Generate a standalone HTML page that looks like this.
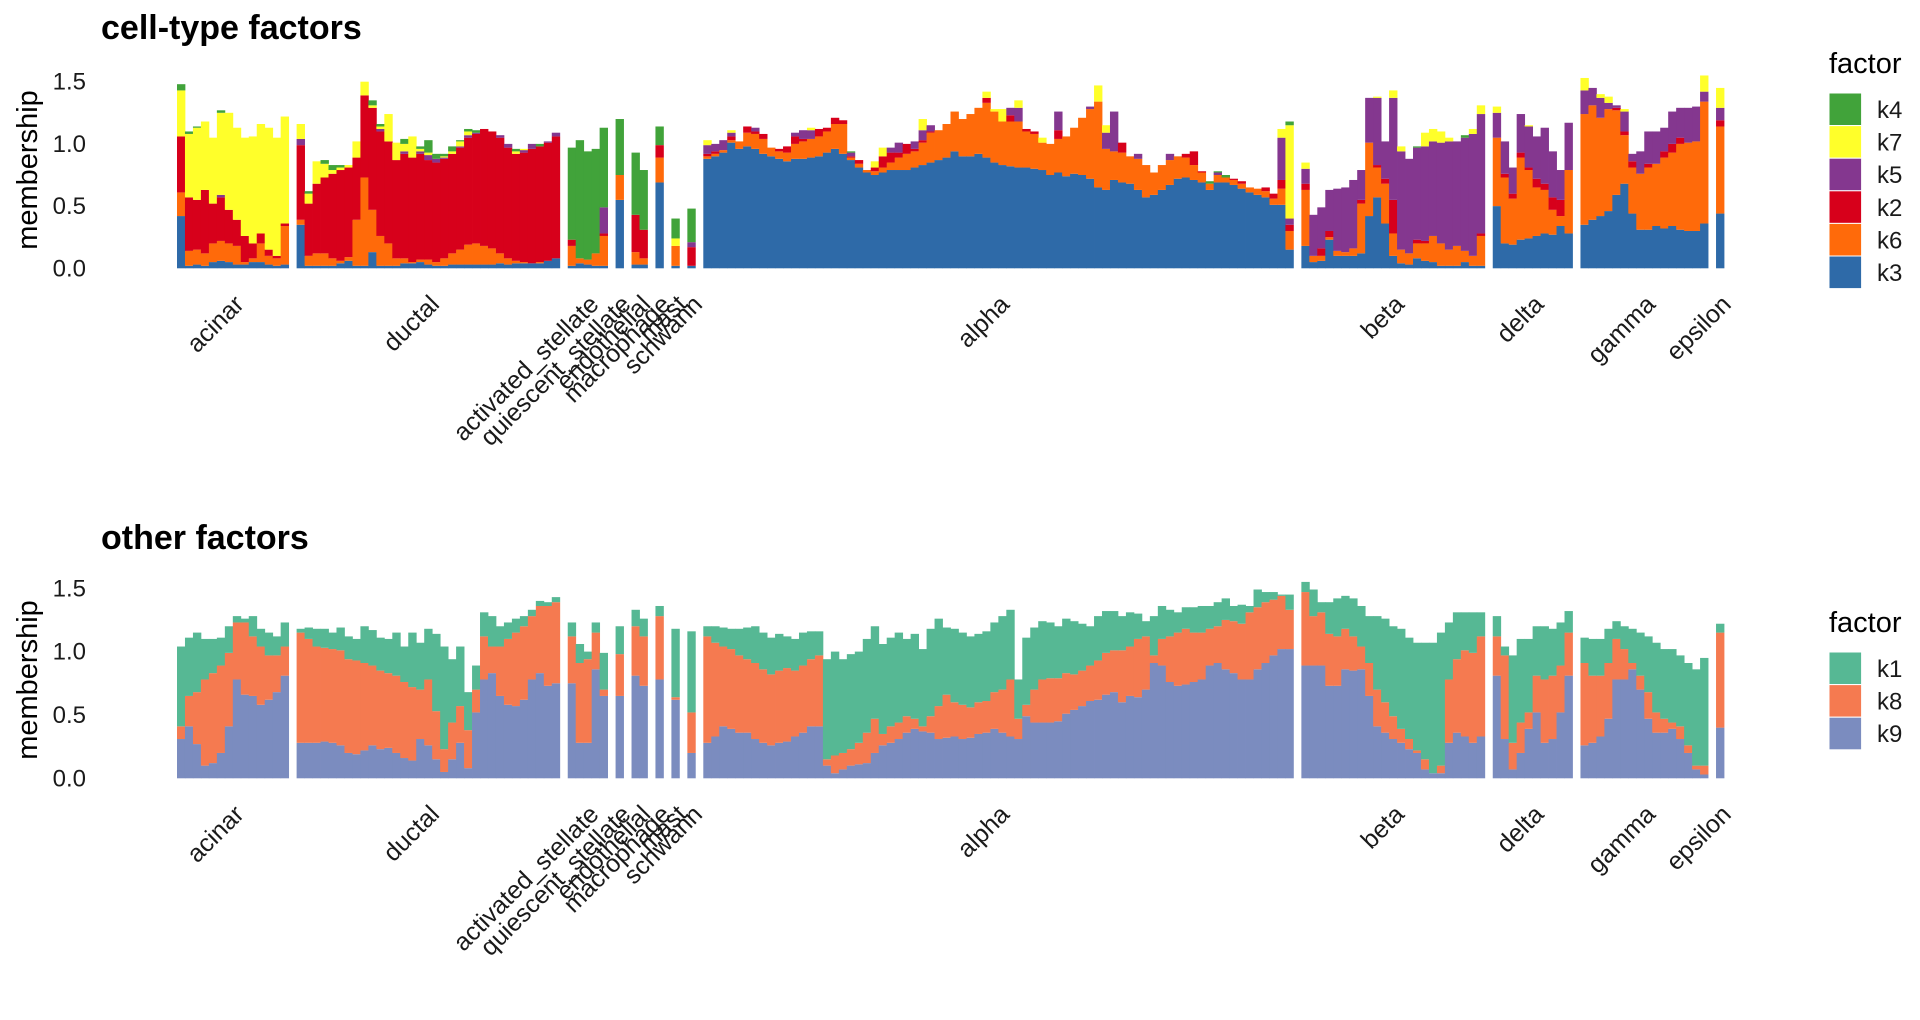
<!DOCTYPE html>
<html><head><meta charset="utf-8">
<style>
html,body{margin:0;padding:0;background:#fff;}
svg{display:block;font-family:"Liberation Sans",Arial,sans-serif;}
</style></head>
<body>
<svg id="chart" width="1920" height="1020" viewBox="0 0 1920 1020" xmlns="http://www.w3.org/2000/svg">
  <rect width="1920" height="1020" fill="#fff"/>
  <g id="p1">
    <text x="101" y="39" font-size="34" font-weight="bold" fill="#000">cell-type factors</text>
    <text transform="translate(37,170) rotate(-90)" text-anchor="middle" font-size="29" fill="#000">membership</text>
  </g>
  <g id="p2">
    <text x="101" y="549" font-size="34" font-weight="bold" fill="#000">other factors</text>
    <text transform="translate(37,680) rotate(-90)" text-anchor="middle" font-size="29" fill="#000">membership</text>
  </g>
</svg>
<script>
// ---- data ----
const groups = ["acinar","ductal","activated_stellate","quiescent_stellate","endothelial","macrophage","mast","schwann","alpha","beta","delta","gamma","epsilon"];
const groupCounts = [14,33,5,1,2,1,1,1,74,23,10,16,1];
const yTicks = [0, 0.5, 1, 1.5];
const yTickLabels = ["0.0","0.5","1.0","1.5"];
const factors1 = ["k3","k6","k2","k5","k7","k4"];
const factors2 = ["k9","k8","k1"];

const k3 = [.42,.02,.03,.02,.05,.06,.05,.03,.03,.05,.05,.03,.02,.03,
.35,.02,.02,.02,.02,.04,.06,.02,.02,.13,.02,.02,.02,.04,.04,.05,.03,.02,.02,.03,.03,.03,.03,.03,.03,.04,.03,.04,.04,.04,.04,.06,.08,
.02,.04,.03,.02,.02, .55, .03,.03, .69, .02, .02,
.88,.90,.93,1.01,.96,.98,.96,.92,.90,.88,.86,.88,.88,.89,.90,.93,.96,.92,.87,.81,.77,.75,.77,.79,.79,.79,.81,.83,.85,.87,.89,.94,.90,.90,.92,.89,.85,.83,.82,.81,.81,.80,.79,.75,.77,.74,.76,.75,.72,.65,.63,.71,.69,.68,.63,.57,.59,.63,.67,.72,.73,.71,.69,.63,.69,.69,.67,.64,.61,.59,.57,.51,.51,.15,
.18,.05,.06,.23,.10,.10,.10,.12,.42,.57,.36,.10,.04,.03,.08,.06,.05,.02,.02,.02,.05,.02,.02,
.5,.2,.19,.23,.24,.26,.28,.27,.34,.28,
.35,.39,.42,.46,.59,.68,.44,.31,.31,.34,.32,.34,.31,.30,.30,.36,
.44];
const k6 = [.19,.12,.12,.10,.15,.16,.15,.15,.02,.03,.15,.07,.06,.31,
.04,.08,.10,.10,.06,.02,.03,.37,.71,.34,.24,.18,.06,.04,.01,.02,.04,.03,.06,.09,.12,.16,.17,.15,.13,.08,.05,.02,.01,0,.01,0,0,
.16,.04,.04,.10,.24, .2, .1,.05, .2, .16, 0,
.02,.02,.02,.02,.06,.11,.12,.12,.07,.06,.07,.12,.14,.15,.16,.17,.20,.24,.02,.03,.02,.03,.04,.06,.10,.13,.13,.18,.24,.24,.27,.32,.30,.34,.37,.44,.41,.35,.36,.37,.29,.28,.22,.25,.27,.32,.37,.46,.56,.69,.33,.23,.24,.22,.25,.26,.18,.20,.20,.18,.16,.12,.08,.05,.06,.04,.04,.04,.04,.05,.05,.05,.13,.15,
.45,.05,.04,.02,.04,.03,.06,.40,.59,.24,.32,.18,.11,.09,.12,.14,.21,.18,.13,.16,.09,.08,.24,
.55,.53,.37,.66,.55,.39,.35,.2,.08,.51,
.89,.92,.79,.82,.68,.39,.37,.45,.50,.50,.57,.59,.69,.71,.72,.98,
.70];
const k2 = [.45,.43,.40,.51,.32,.35,.27,.21,.21,.12,.08,.05,.02,.02,
.6,.42,.56,.61,.68,.73,.72,.50,.66,.82,.84,.82,.79,.84,.84,.85,.80,.80,.80,.80,.82,.86,.88,.94,.94,.93,.89,.86,.88,.92,.93,.95,.98,
.05,0,0,0,.02, 0, .3,.23, .1, 0, .15,
.02,.02,0,.03,0,.05,.02,.04,0,.02,.05,.06,.02,0,.06,.03,.05,.03,.01,.03,0,.03,.09,.08,.04,.08,.02,.02,.01,0,0,0,0,0,0,.04,0,0,.05,0,.02,.02,0,0,.07,0,0,0,0,0,0,0,.08,0,0,0,0,0,0,0,.03,.11,.01,0,0,0,.01,.02,0,0,.03,.04,.07,.05,
.05,0,.06,.05,0,0,0,.03,0,.02,.04,.27,0,0,.03,.02,0,0,0,0,0,0,.02,
0,.03,.04,.04,.02,.07,.05,.1,.13,0,
0,0,0,0,.02,.03,.05,0,.03,0,.05,.07,.05,0,0,0,
.05];
const k5 = [0,0,0,0,0,.02,0,0,0,0,0,0,0,0,
.05,0,0,0,0,0,0,0,0,0,.02,0,0,.02,0,.02,.04,.03,.01,0,.01,.02,.01,0,0,.02,.03,0,.02,.04,0,.01,.03,
0,0,0,0,.21, 0, 0,0, 0, 0, .04,
.07,.06,.08,.03,0,0,.03,0,0,0,0,.03,.07,.07,0,0,0,0,.03,0,0,0,0,.04,.08,0,.06,.08,.05,0,0,0,0,0,0,0,0,0,.06,.11,0,0,0,0,.15,0,0,0,.02,0,.13,.32,0,0,.04,0,0,0,.05,0,0,0,0,0,.02,0,0,0,0,0,0,0,.34,.05,
.12,.33,.33,.33,.50,.52,.55,.24,.36,.54,.30,.82,.79,.76,.74,.76,.76,.81,.87,.84,.91,.98,.96,
.2,.26,.21,.31,.33,.34,.45,.37,.24,.38,
.19,.14,.16,.05,.02,.16,.06,.18,.26,.26,.19,.26,.24,.28,.28,.08,
.10];
const k7 = [.37,.51,.58,.55,.53,.66,.78,.74,.79,.86,.88,.98,.95,.86,
.12,.08,.18,.11,.03,.02,.02,.13,.11,.02,.02,.22,.14,.06,.17,.02,.02,0,.01,.02,.04,.03,0,0,0,0,0,.02,.01,0,0,0,0,
0,0,0,0,0, 0, 0,0, 0, .06, 0,
.04,0,0,.02,0,0,0,0,0,0,0,0,0,.02,0,0,0,0,0,0,0,.05,.07,0,0,0,0,.09,0,0,0,0,0,0,0,.05,.02,.10,0,.06,0,0,.04,0,0,0,0,0,0,.13,.06,0,0,0,0,0,0,0,0,0,0,0,0,0,0,0,0,0,0,0,0,0,.07,.75,
.05,0,0,0,0,0,0,0,0,.01,0,.06,.04,0,0,.11,.10,.09,.03,0,0,.04,.07,
.05,0,0,0,.01,0,0,0,0,0,
.1,0,.03,.05,0,.02,0,0,0,0,0,0,0,0,0,.13,
.16];
const k4 = [.05,.02,.01,0,0,.02,0,0,0,0,0,0,0,0,
0,.02,0,.03,.04,.02,0,0,0,.04,.02,0,0,.04,0,.02,.1,.04,.02,.04,.01,.02,.02,0,0,0,0,.02,0,0,.02,0,0,
.74,.95,.87,.84,.64, .45, .5,.48, .15, .16, .27,
0,0,0,0,0,0,0,0,0,0,0,0,0,0,0,0,0,0,.01,0,0,0,0,0,0,0,0,0,0,0,0,0,0,0,0,0,0,0,0,0,0,0,0,0,0,0,0,0,0,0,0,0,0,0,0,0,0,0,0,0,0,0,0,.02,.01,.02,0,0,0,0,0,0,0,.03,
0,0,0,0,0,0,0,0,0,0,0,0,0,0,.01,0,0,0,0,0,.02,0,0,
0,0,0,0,0,0,0,0,0,0,
0,0,0,0,0,0,0,0,0,0,0,0,0,0,0,0,
0];

const k9 = [.31,.41,.27,.10,.12,.20,.41,.78,.66,.65,.58,.62,.68,.81,
.28,.28,.28,.29,.28,.26,.20,.19,.22,.26,.23,.24,.20,.16,.14,.31,.26,.15,.05,.15,.28,.08,.52,.78,.83,.65,.58,.57,.62,.78,.83,.73,.75,
.75,.28,.28,.86,.65, .65, .81,.73, .78, .62, .2,
.28,.33,.41,.39,.36,.36,.31,.28,.26,.28,.29,.33,.36,.41,.41,.10,.04,.07,.10,.11,.12,.20,.26,.28,.31,.36,.39,.37,.36,.31,.32,.33,.31,.32,.35,.36,.39,.36,.33,.31,.49,.44,.44,.44,.45,.51,.54,.57,.61,.62,.66,.68,.60,.65,.64,.70,.91,.89,.76,.73,.74,.76,.78,.89,.91,.86,.83,.78,.78,.86,.91,.97,1.02,1.02,
.89,.89,.89,.73,.73,.86,.85,.86,.65,.41,.36,.31,.28,.23,.20,.07,.04,.04,.28,.36,.33,.28,.33,
.81,.31,.07,.2,.39,.52,.28,.31,.52,.81,
.26,.28,.33,.47,.78,.78,.86,.70,.47,.36,.36,.39,.31,.20,.07,.03,
.40];
const k8 = [.10,.24,.41,.68,.71,.69,.58,.45,.57,.47,.46,.35,.29,.23,
.87,.82,.76,.74,.74,.75,.74,.74,.69,.63,.62,.59,.61,.60,.58,.39,.52,.38,.18,.29,.29,.30,.18,.34,.21,.39,.52,.58,.58,.50,.53,.63,.64,
.37,.63,.66,.29,.05, .33, .39,.39, .5, .02, .32,
.84,.74,.63,.63,.61,.58,.60,.58,.56,.57,.58,.52,.53,.53,.56,.05,.14,.13,.13,.17,.24,.27,.09,.13,.13,.13,.08,.04,.13,.26,.34,.27,.27,.24,.25,.25,.29,.34,.45,.16,.09,.26,.34,.35,.34,.32,.28,.28,.28,.31,.33,.33,.41,.39,.46,.42,.06,.21,.36,.42,.44,.39,.37,.29,.29,.39,.41,.44,.53,.49,.48,.44,.42,.31,
.58,.39,.42,.41,.39,.32,.27,.18,.26,.29,.24,.18,.11,.08,.02,.08,0,.06,.50,.58,.68,.71,.79,
.31,.66,.21,.24,.13,.29,.5,.5,.37,.34,
.65,.53,.48,.44,.32,.24,.05,.11,.21,.16,.11,.05,.10,.06,.03,.07,
.75];
const k1 = [.63,.46,.47,.32,.27,.22,.21,.05,.03,.16,.14,.18,.15,.19,
.03,.09,.14,.15,.13,.18,.18,.17,.29,.28,.26,.27,.34,.28,.43,.37,.40,.61,.81,.50,.47,.30,.19,.19,.24,.16,.13,.11,.08,.05,.04,.03,.04,
.11,.15,.06,.08,.29, .22, .13,.14, .08, .54, .64,
.08,.13,.15,.16,.21,.25,.29,.29,.29,.29,.25,.25,.26,.22,.19,.79,.82,.74,.75,.72,.74,.73,.71,.70,.71,.61,.67,.61,.69,.69,.53,.58,.57,.56,.54,.55,.55,.58,.55,.31,.53,.49,.46,.44,.41,.43,.42,.37,.31,.35,.33,.31,.27,.27,.20,.12,.31,.26,.21,.16,.17,.20,.21,.18,.19,.17,.12,.15,.05,.14,.08,.06,.01,.12,
.08,.21,.08,.25,.30,.26,.30,.32,.37,.58,.66,.71,.79,.80,.85,.92,1.03,1.05,.45,.37,.30,.32,.19,
.16,.07,.69,.66,.58,.39,.42,.37,.34,.17,
.20,.29,.29,.27,.14,.18,.27,.34,.44,.55,.55,.58,.56,.65,.76,.85,
.07];

// ---- styling ----
const colors1 = {k3:"#2e6aa8",k6:"#ff6a0a",k2:"#d7001b",k5:"#84378f",k7:"#ffff2a",k4:"#41a33a"};
const colors2 = {k9:"#7b8cbf",k8:"#f57a50",k1:"#56b894"};
const series1 = {k3:k3,k6:k6,k2:k2,k5:k5,k7:k7,k4:k4};
const series2 = {k9:k9,k8:k8,k1:k1};

const NS = "http://www.w3.org/2000/svg";
const X0 = 177, X1 = 1724, GAP_UNITS = 1;
const totalBars = groupCounts.reduce((a,b)=>a+b,0);
const totalUnits = totalBars + GAP_UNITS*(groupCounts.length-1);
const bw = (X1-X0)/totalUnits;

function barX(i){
  let g=0, acc=0;
  while(i >= acc + groupCounts[g]){ acc += groupCounts[g]; g++; }
  return X0 + (i + g*GAP_UNITS)*bw;
}
function groupCenter(g){
  let start=0; for(let j=0;j<g;j++) start+=groupCounts[j];
  const a = barX(start), b = barX(start+groupCounts[g]-1)+bw;
  return (a+b)/2;
}
function el(tag, attrs, parent){
  const e = document.createElementNS(NS, tag);
  for(const k in attrs) e.setAttribute(k, attrs[k]);
  parent.appendChild(e); return e;
}

function drawPanel(parentId, base, unit, factors, series, colors, legendTop, legendOrder, tag){
  const p = document.getElementById(parentId);
  const yScale = v => base - v*unit;
  yTicks.forEach((t,i)=>{
    const tx = el("text",{x:86,y:yScale(t)+8,"text-anchor":"end","font-size":24,fill:"#1a1a1a"},p);
    tx.textContent = yTickLabels[i];
    
    
  });
  const gBars = el("g",{},p);
  
  
  for(let i=0;i<totalBars;i++){
    let cum = 0;
    const x = barX(i);
    factors.forEach(f=>{
      const v = series[f][i] || 0;
      if(v>0){
        const r = el("rect",{x:x.toFixed(2),y:yScale(cum+v).toFixed(2),width:(bw+0.4).toFixed(2),height:(v*unit).toFixed(2),fill:colors[f]},gBars);
        
        
      }
      cum += v;
    });
  }
  groups.forEach((g,gi)=>{
    const cx = groupCenter(gi);
    const t = el("text",{transform:`translate(${cx.toFixed(1)},${base+25}) rotate(-45)`,"text-anchor":"end","dominant-baseline":"hanging","font-size":25,fill:"#1a1a1a"},p);
    t.textContent = g;
    
    
  });
  const lg = el("g",{},p);
  
  
  const lt = el("text",{x:1829,y:legendTop-20,"font-size":29,fill:"#000"},lg);
  lt.textContent = "factor";
  
  
  legendOrder.forEach((f,k)=>{
    const y = legendTop + k*32.6;
    const r = el("rect",{x:1829,y:y,width:32.6,height:32.6,fill:colors[f],stroke:"#fff","stroke-width":1},lg);
    
    
    const t = el("text",{x:1877,y:y+25,"font-size":24,fill:"#1a1a1a"},lg);
    t.textContent = f;
    
    
  });
}

drawPanel("p1", 268.3, 124.4, factors1, series1, colors1, 93, ["k4","k7","k5","k2","k6","k3"], "top");
drawPanel("p2", 778.3, 126.7, factors2, series2, colors2, 652, ["k1","k8","k9"], "bottom");
</script>
</body></html>
